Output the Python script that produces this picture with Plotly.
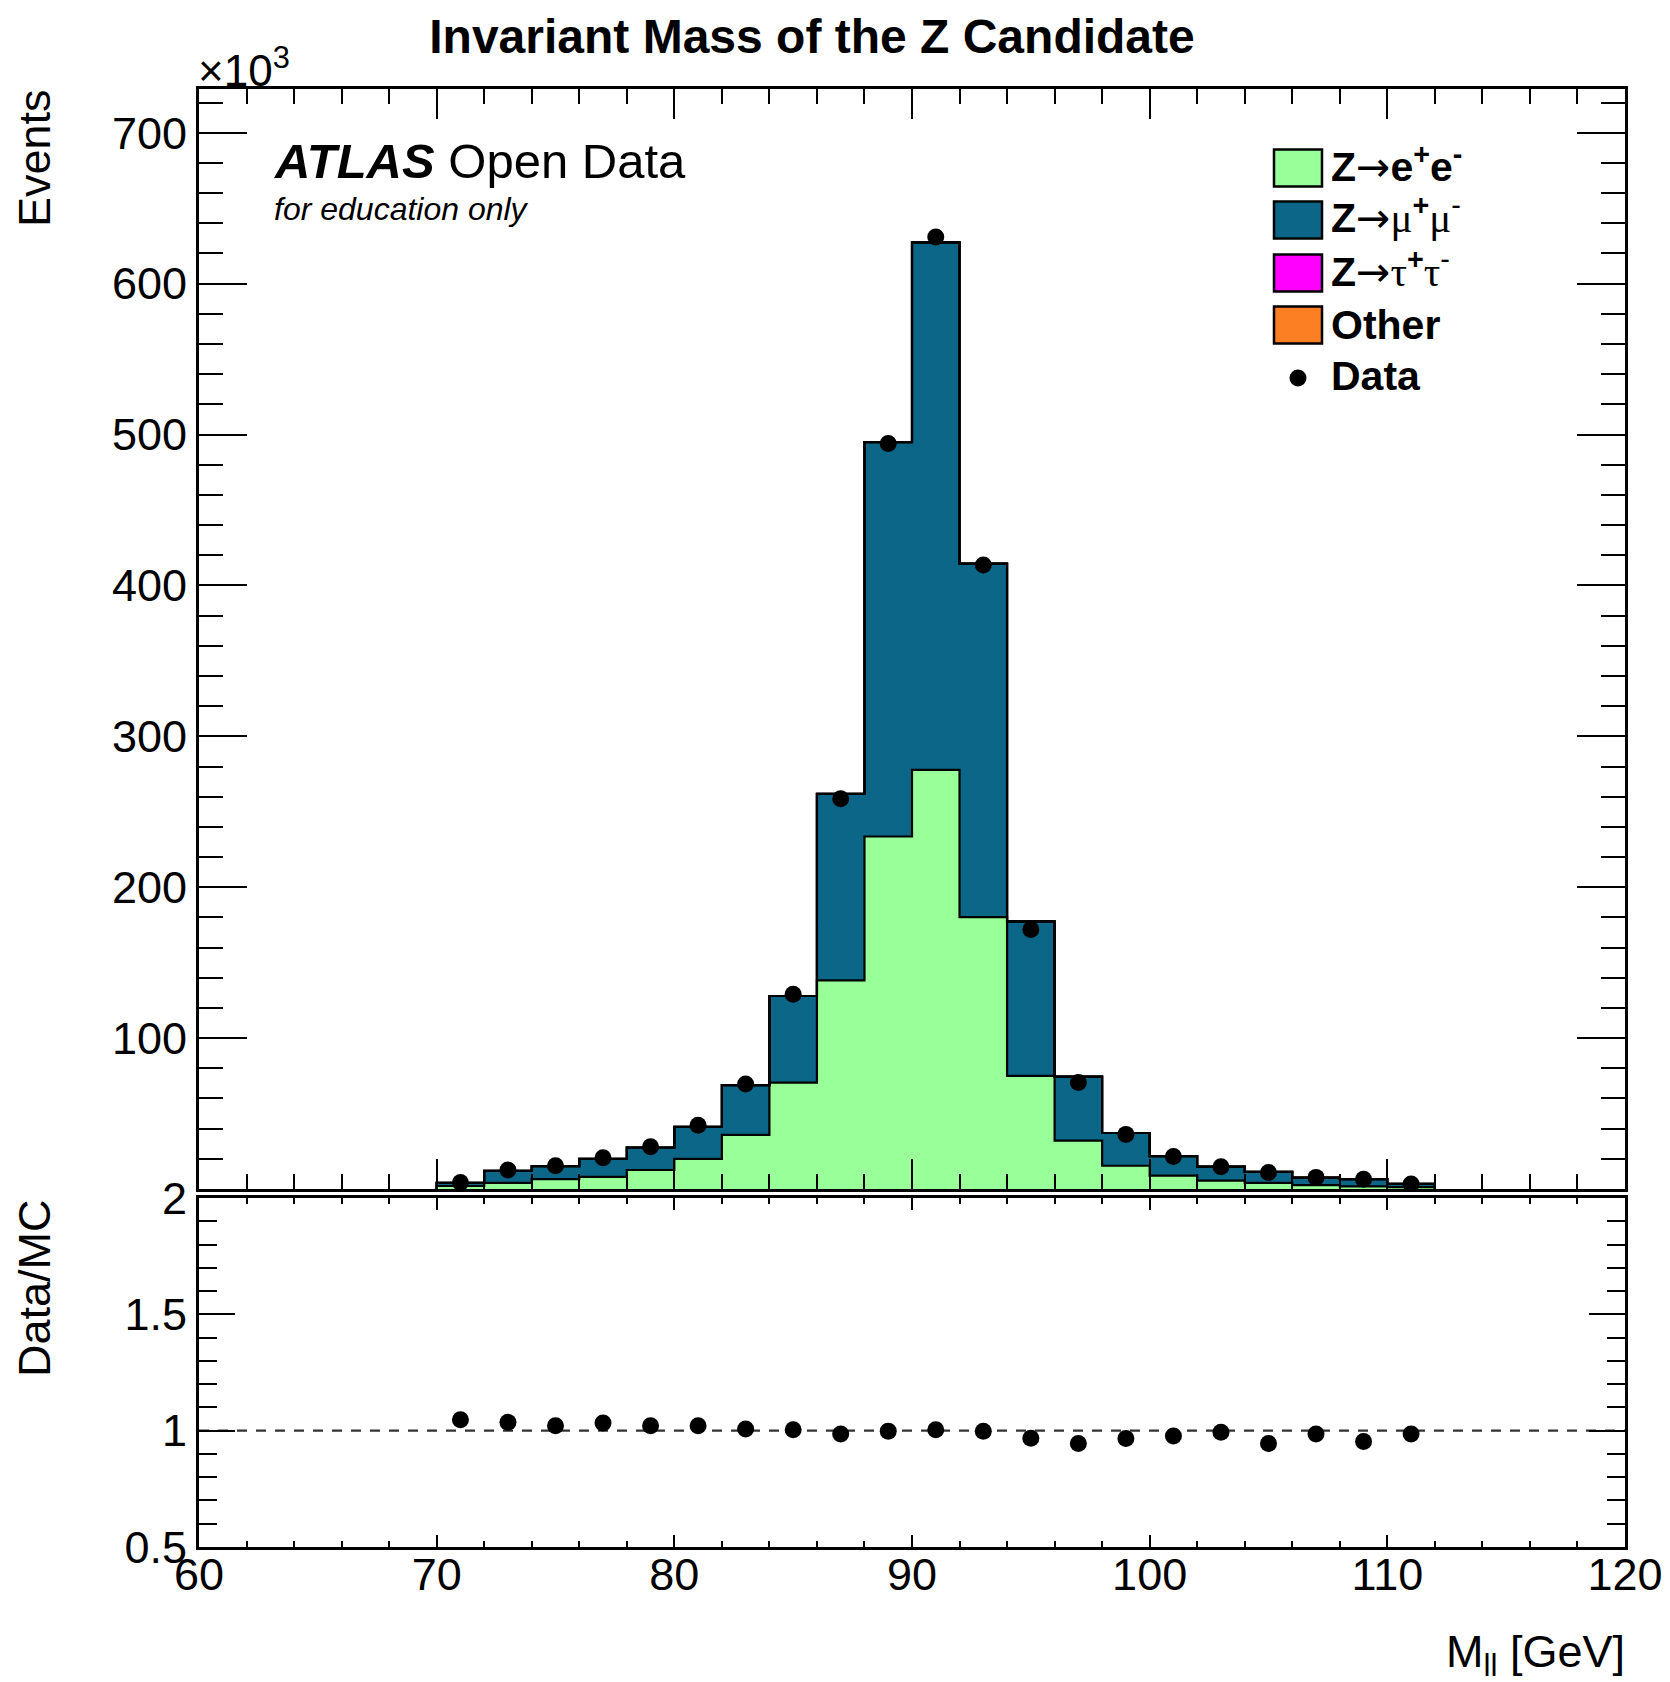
import plotly.graph_objects as go

# ---------------- data (events in units of 10^3) ----------------
bin_edges = [70, 72, 74, 76, 78, 80, 82, 84, 86, 88, 90, 92, 94, 96, 98, 100,
             102, 104, 106, 108, 110, 112]
bin_centers = [71, 73, 75, 77, 79, 81, 83, 85, 87, 89, 91, 93, 95, 97, 99, 101,
               103, 105, 107, 109, 111]

z_ee = [2.0, 4.0, 6.6, 8.1, 12.6, 19.9, 35.9, 70.5, 138.3, 233.6, 277.8, 180.2,
        75.0, 32.0, 15.4, 8.8, 5.5, 4.0, 2.6, 1.7, 1.2]
z_mumu = [2.0, 8.1, 8.6, 11.8, 14.9, 21.3, 32.9, 57.4, 123.6, 261.4, 349.6, 234.3,
          102.4, 42.5, 21.7, 13.0, 9.3, 7.4, 5.0, 4.9, 2.2]
z_tautau = [0.0] * 21
other = [0.0] * 21

data = [4.3, 12.6, 15.4, 20.7, 28.0, 42.2, 69.6, 129.0, 258.6, 494.0, 630.9, 413.6,
        172.0, 70.6, 36.2, 21.6, 14.8, 11.0, 7.7, 6.5, 3.3]
ratio = [1.047, 1.036, 1.021, 1.033, 1.021, 1.021, 1.007, 1.004, 0.986, 0.998, 1.004,
         0.997, 0.967, 0.945, 0.966, 0.977, 0.993, 0.945, 0.986, 0.953, 0.986]

upper_yticks = [0, 100, 200, 300, 400, 500, 600, 700]
upper_yticklabels = ["", "100", "200", "300", "400", "500", "600", "700"]
lower_yticks = [0.5, 1.0, 1.5, 2.0]
lower_yticklabels = ["0.5", "1", "1.5", "2"]

samples = [
    ("Z→ee", z_ee, "#99FF99"),
    ("Z→μμ", z_mumu, "#0B6687"),
    ("Z→ττ", z_tautau, "#FF00FF"),
    ("Other", other, "#FC7F24"),
]

FONT = "Liberation Sans"
W, H = 1670, 1682

fig = go.Figure()


def step_xy(vals):
    vals = list(vals)
    xs = [bin_edges[0]] + bin_edges[:-1] + [bin_edges[-1], bin_edges[-1]]
    ys = [0.0] + vals + [vals[-1], 0.0]
    return xs, ys


cum = [0.0] * len(bin_centers)
for i, (name, vals, col) in enumerate(samples):
    cum = [c + v for c, v in zip(cum, vals)]
    xs, ys = step_xy(cum)
    fig.add_trace(go.Scatter(
        x=xs, y=ys, mode="lines", line=dict(shape="hv", color="black", width=2.2),
        fill="tozeroy" if i == 0 else "tonexty", fillcolor=col,
        name=name, showlegend=False, xaxis="x", yaxis="y", hoverinfo="skip"))

fig.add_trace(go.Scatter(
    x=bin_centers, y=data, mode="markers",
    marker=dict(color="black", size=17, symbol="circle"),
    showlegend=False, xaxis="x", yaxis="y"))

# ratio panel
fig.add_shape(type="line", xref="x2", yref="y2", x0=60, x1=120, y0=1, y1=1,
              line=dict(color="#333333", width=2.2, dash="10px,9px"), layer="below")
fig.add_trace(go.Scatter(
    x=bin_centers, y=ratio, mode="markers",
    marker=dict(color="black", size=17, symbol="circle"),
    showlegend=False, xaxis="x2", yaxis="y2"))

xdom = [199 / W, 1625 / W]
up_dom = [(H - 1189) / H, (H - 89) / H]
lo_dom = [(H - 1547) / H, (H - 1198) / H]

axis_common = dict(showline=True, linecolor="black", linewidth=3, mirror="ticks",
                   ticks="inside", tickcolor="black", tickwidth=2,
                   showgrid=False, zeroline=False,
                   tickfont=dict(family=FONT, size=45, color="black"))

fig.update_layout(
    width=W, height=H, autosize=False,
    margin=dict(l=0, r=0, t=0, b=0),
    paper_bgcolor="white", plot_bgcolor="white",
    title=dict(text="<b>Invariant Mass of the Z Candidate</b>",
               font=dict(family=FONT, size=48, color="black"),
               x=812 / W, xanchor="center", y=1 - 36 / H, yanchor="middle"),
    xaxis=dict(domain=xdom, range=[60, 120], anchor="y", showticklabels=False,
               tick0=60, dtick=10, ticklen=30,
               minor=dict(dtick=2, ticklen=15, ticks="inside", tickcolor="black", tickwidth=2),
               automargin=False, **axis_common),
    yaxis=dict(domain=up_dom, range=[0, 729], anchor="x",
               tickvals=upper_yticks, ticktext=upper_yticklabels, ticklen=48,
               minor=dict(dtick=20, tick0=0, ticklen=24, ticks="inside", tickcolor="black", tickwidth=2),
               ticklabelstandoff=0, automargin=False, **axis_common),
    xaxis2=dict(domain=xdom, range=[60, 120], anchor="y2",
                tick0=60, dtick=10, ticklen=12,
                minor=dict(dtick=2, ticklen=6, ticks="inside", tickcolor="black", tickwidth=2),
                ticklabelstandoff=-14, automargin=False, **axis_common),
    yaxis2=dict(domain=lo_dom, range=[0.5, 2.0], anchor="x2",
                tickvals=lower_yticks, ticktext=lower_yticklabels, ticklen=36,
                minor=dict(dtick=0.1, tick0=0.5, ticklen=18, ticks="inside", tickcolor="black", tickwidth=2),
                ticklabelstandoff=0, automargin=False, **axis_common),
)

ann = []
# axis titles
ann.append(dict(text="Events", x=34 / W, y=1 - 158 / H, xref="paper", yref="paper",
                textangle=-90, showarrow=False, xanchor="center", yanchor="middle",
                font=dict(family=FONT, size=45, color="black")))
ann.append(dict(text="Data/MC", x=34 / W, y=1 - 1288 / H, xref="paper", yref="paper",
                textangle=-90, showarrow=False, xanchor="center", yanchor="middle",
                font=dict(family=FONT, size=45, color="black")))
ann.append(dict(text="M<sub>ll</sub> [GeV]", x=1627 / W, y=1 - 1654 / H, xref="paper", yref="paper",
                showarrow=False, xanchor="right", yanchor="middle",
                font=dict(family=FONT, size=45, color="black")))
ann.append(dict(text="×10<sup>3</sup>", x=196 / W, y=1 - 97 / H, xref="paper", yref="paper",
                showarrow=False, xanchor="left", yanchor="bottom",
                font=dict(family=FONT, size=44, color="black")))
# ATLAS label
ann.append(dict(text="<b><i>ATLAS</i></b> Open Data", x=272 / W, y=1 - 161 / H,
                xref="paper", yref="paper", showarrow=False, xanchor="left", yanchor="middle",
                font=dict(family=FONT, size=49, color="black")))
ann.append(dict(text="<i>for education only</i>", x=272 / W, y=1 - 209 / H,
                xref="paper", yref="paper", showarrow=False, xanchor="left", yanchor="middle",
                font=dict(family=FONT, size=32, color="black")))

# legend (manual, ROOT style)
SER = "font-family:Liberation Serif;font-weight:normal"
ARR = "<span style=\"font-family:DejaVu Sans;font-weight:normal\">→</span>"
leg_labels = [
    f"<b>Z</b>{ARR}<b>e<sup>+</sup>e<sup>-</sup></b>",
    f"<b>Z</b>{ARR}<span style=\"{SER}\">μ</span><b><sup>+</sup></b><span style=\"{SER}\">μ</span><sup>-</sup>",
    f"<b>Z</b>{ARR}<span style=\"{SER}\">τ</span><b><sup>+</sup></b><span style=\"{SER}\">τ</span><sup>-</sup>",
    "<b>Other</b>",
]
leg_y = [168, 220, 273, 325]
leg_text_shift = [-4, -4, -4, 0]
for (name, vals, col), lab, yc, sh in zip(samples, leg_labels, leg_y, leg_text_shift):
    fig.add_shape(type="rect", xref="paper", yref="paper",
                  x0=1274 / W, x1=1322 / W, y0=1 - (yc + 18.5) / H, y1=1 - (yc - 18.5) / H,
                  fillcolor=col, line=dict(color="black", width=2.5))
    ann.append(dict(text=lab, x=1329 / W, y=1 - (yc + sh) / H, xref="paper", yref="paper",
                    showarrow=False, xanchor="left", yanchor="middle",
                    font=dict(family=FONT, size=41, color="black")))
fig.add_shape(type="circle", xref="paper", yref="paper",
              x0=(1298 - 8.5) / W, x1=(1298 + 8.5) / W, y0=1 - (378 + 8.5) / H, y1=1 - (378 - 8.5) / H,
              fillcolor="black", line=dict(color="black", width=0))
ann.append(dict(text="<b>Data</b>", x=1329 / W, y=1 - 376 / H, xref="paper", yref="paper",
                showarrow=False, xanchor="left", yanchor="middle",
                font=dict(family=FONT, size=41, color="black")))

fig.update_layout(annotations=ann)
fig.write_html("out.html")
